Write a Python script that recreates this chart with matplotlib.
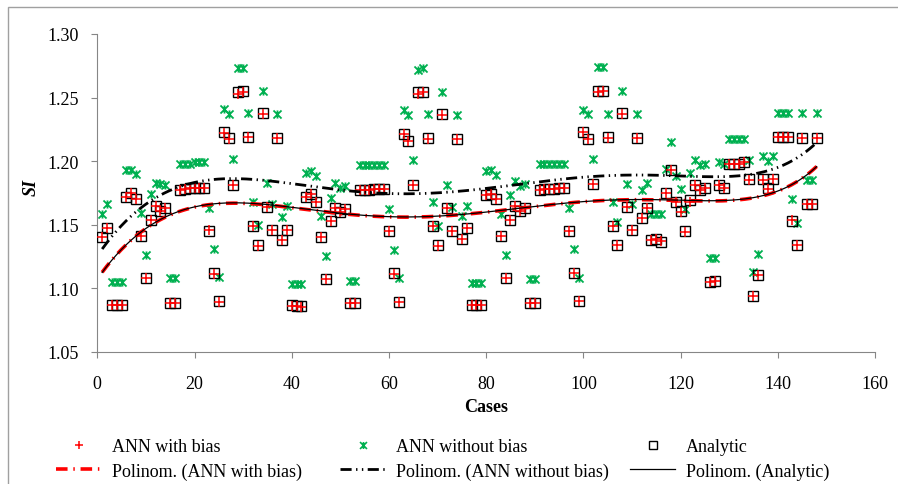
import matplotlib.pyplot as plt
import numpy as np
from matplotlib.lines import Line2D
from matplotlib.path import Path
from matplotlib.patches import Rectangle

# SI for each case, four blocks of 37 cases
analytic = [
    1.140, 1.147, 1.087, 1.087, 1.087, 1.172, 1.175, 1.170, 1.141, 1.108,
    1.154, 1.165, 1.161, 1.163, 1.088, 1.088, 1.177, 1.178, 1.179, 1.179,
    1.179, 1.179, 1.145, 1.112, 1.090, 1.223, 1.218, 1.181, 1.254, 1.255,
    1.219, 1.149, 1.134, 1.238, 1.164, 1.146, 1.218,
    1.138, 1.146, 1.087, 1.086, 1.086, 1.172, 1.174, 1.168, 1.140, 1.107,
    1.153, 1.163, 1.160, 1.162, 1.088, 1.088, 1.177, 1.177, 1.177, 1.178,
    1.178, 1.178, 1.145, 1.112, 1.089, 1.221, 1.216, 1.181, 1.254, 1.254,
    1.218, 1.149, 1.134, 1.237, 1.163, 1.145, 1.217,
    1.139, 1.147, 1.087, 1.087, 1.087, 1.173, 1.174, 1.170, 1.141, 1.108,
    1.154, 1.165, 1.161, 1.163, 1.088, 1.088, 1.177, 1.178, 1.178, 1.178,
    1.179, 1.179, 1.145, 1.112, 1.090, 1.223, 1.217, 1.182, 1.255, 1.255,
    1.219, 1.149, 1.134, 1.238, 1.164, 1.146, 1.218,
    1.155, 1.163, 1.138, 1.139, 1.136, 1.175, 1.193, 1.168, 1.161, 1.145,
    1.169, 1.181, 1.177, 1.179, 1.105, 1.106, 1.181, 1.179, 1.198, 1.198,
    1.198, 1.199, 1.186, 1.094, 1.110, 1.186, 1.179, 1.186, 1.219, 1.219,
    1.219, 1.153, 1.134, 1.218, 1.166, 1.166, 1.218,
]

ann_bias = [
    1.140, 1.147, 1.087, 1.087, 1.087, 1.172, 1.175, 1.170, 1.141, 1.108,
    1.154, 1.165, 1.161, 1.163, 1.088, 1.088, 1.177, 1.178, 1.179, 1.179,
    1.179, 1.179, 1.146, 1.111, 1.089, 1.222, 1.217, 1.181, 1.253, 1.254,
    1.219, 1.149, 1.133, 1.237, 1.164, 1.146, 1.218,
    1.138, 1.146, 1.086, 1.086, 1.085, 1.172, 1.174, 1.168, 1.140, 1.107,
    1.153, 1.163, 1.160, 1.162, 1.088, 1.088, 1.177, 1.177, 1.177, 1.178,
    1.178, 1.178, 1.145, 1.111, 1.089, 1.221, 1.216, 1.181, 1.253, 1.254,
    1.217, 1.149, 1.133, 1.236, 1.163, 1.145, 1.217,
    1.139, 1.147, 1.087, 1.087, 1.087, 1.173, 1.174, 1.170, 1.141, 1.108,
    1.154, 1.165, 1.161, 1.163, 1.088, 1.088, 1.177, 1.178, 1.178, 1.178,
    1.179, 1.179, 1.145, 1.112, 1.090, 1.223, 1.217, 1.182, 1.254, 1.255,
    1.218, 1.149, 1.134, 1.237, 1.164, 1.146, 1.218,
    1.155, 1.163, 1.138, 1.139, 1.137, 1.175, 1.193, 1.168, 1.160, 1.144,
    1.168, 1.181, 1.177, 1.179, 1.105, 1.106, 1.181, 1.179, 1.198, 1.198,
    1.198, 1.199, 1.185, 1.094, 1.110, 1.185, 1.178, 1.186, 1.219, 1.219,
    1.219, 1.154, 1.134, 1.218, 1.166, 1.166, 1.218,
]

ann_nobias = [
    1.158, 1.166, 1.105, 1.105, 1.105, 1.193, 1.193, 1.190, 1.159, 1.126,
    1.174, 1.183, 1.182, 1.181, 1.108, 1.108, 1.198, 1.198, 1.198, 1.199,
    1.199, 1.199, 1.163, 1.131, 1.109, 1.241, 1.237, 1.202, 1.273, 1.273,
    1.238, 1.168, 1.150, 1.255, 1.183, 1.166, 1.237,
    1.156, 1.165, 1.103, 1.103, 1.103, 1.191, 1.192, 1.188, 1.157, 1.125,
    1.171, 1.183, 1.179, 1.180, 1.106, 1.106, 1.197, 1.197, 1.197, 1.197,
    1.197, 1.197, 1.162, 1.130, 1.108, 1.240, 1.236, 1.201, 1.272, 1.273,
    1.237, 1.168, 1.149, 1.254, 1.181, 1.164, 1.236,
    1.157, 1.165, 1.104, 1.104, 1.104, 1.192, 1.193, 1.189, 1.158, 1.126,
    1.173, 1.184, 1.180, 1.182, 1.107, 1.107, 1.198, 1.198, 1.198, 1.198,
    1.198, 1.198, 1.163, 1.131, 1.108, 1.240, 1.237, 1.202, 1.274, 1.274,
    1.237, 1.168, 1.152, 1.255, 1.182, 1.166, 1.237,
    1.177, 1.183, 1.158, 1.158, 1.158, 1.194, 1.215, 1.188, 1.178, 1.162,
    1.191, 1.201, 1.197, 1.198, 1.124, 1.124, 1.199, 1.198, 1.217, 1.217,
    1.217, 1.217, 1.201, 1.113, 1.127, 1.204, 1.200, 1.204, 1.238, 1.238,
    1.238, 1.170, 1.151, 1.238, 1.185, 1.185, 1.238,
]

cases = np.arange(1, len(analytic) + 1)

RED = '#FF0000'
GREEN = '#00B050'
AXIS = '#868686'

plt.rcParams['font.family'] = 'Liberation Serif'
plt.rcParams['font.size'] = 13

# Excel-style star marker: an X with a vertical bar through it
star = Path([(-1, -1), (1, 1), (-1, 1), (1, -1), (0, -1), (0, 1)],
            [Path.MOVETO, Path.LINETO, Path.MOVETO, Path.LINETO,
             Path.MOVETO, Path.LINETO])

fig = plt.figure(figsize=(8.98, 4.85), dpi=100)
ax = fig.add_axes([97.3 / 898, 1 - 352.7 / 485, (875 - 97.3) / 898, (352.7 - 35) / 485])

# chart frame
fig.patches.append(Rectangle((8 / 898, -0.1), 1.2, 1.1 - 8 / 485, transform=fig.transFigure,
                             fill=False, edgecolor='#A0A0A0', linewidth=1.0))

ax.plot(cases, ann_nobias, linestyle='none', marker=star, markersize=5.8,
        markeredgecolor=GREEN, markeredgewidth=1.3, zorder=2)
ax.plot(cases, analytic, linestyle='none', marker='s', markersize=7,
        markerfacecolor='none', markeredgecolor='black', markeredgewidth=1.0, zorder=3)
ax.plot(cases, ann_bias, linestyle='none', marker='+', markersize=6.5,
        markeredgecolor=RED, markeredgewidth=1.1, zorder=4)

# 6th order polynomial trendlines
xs = np.linspace(cases[0], cases[-1], 600)
fit_bias = np.polyval(np.polyfit(cases, ann_bias, 6), xs)
fit_nobias = np.polyval(np.polyfit(cases, ann_nobias, 6), xs)
fit_an = np.polyval(np.polyfit(cases, analytic, 6), xs)

ls_red = (0, (3.2, 1.6, 0.4, 1.6))
ls_black = (0, (4.0, 1.6, 0.5, 1.6, 0.5, 1.6))
ax.plot(xs, fit_bias, color=RED, linewidth=2.6, linestyle=ls_red, zorder=5)
ax.plot(xs, fit_nobias, color='black', linewidth=2.0, linestyle=ls_black, zorder=5)
ax.plot(xs, fit_an, color='black', linewidth=0.9, zorder=6)

ax.set_xlim(0, 160)
ax.set_ylim(1.05, 1.30)
ax.set_xticks(np.arange(0, 161, 20))
ax.set_yticks(np.arange(1.05, 1.301, 0.05))
ax.yaxis.set_major_formatter(plt.FormatStrFormatter('%.2f'))
for side in ['top', 'right']:
    ax.spines[side].set_visible(False)
for side in ['left', 'bottom']:
    ax.spines[side].set_color(AXIS)
ax.tick_params(direction='out', length=4, color=AXIS, labelsize=13)
ax.tick_params(axis='x', pad=13)
ax.tick_params(axis='y', pad=9)

ax.set_xlabel('Cases', fontweight='bold', fontsize=13, labelpad=4)
ax.set_ylabel('SI', fontweight='bold', fontstyle='italic', fontsize=13)
ax.yaxis.set_label_coords(-0.074, 0.52)

# legend: three columns of two rows each
cols = [
    (56, [Line2D([], [], linestyle='none', marker='+', color=RED, markersize=6, markeredgewidth=1.1),
          Line2D([], [], color=RED, linewidth=2.6, linestyle=ls_red)],
     ['ANN with bias', 'Polinom. (ANN with bias)']),
    (340, [Line2D([], [], linestyle='none', marker=star, color=GREEN, markersize=5, markeredgewidth=1.2),
           Line2D([], [], color='black', linewidth=2.0, linestyle=ls_black)],
     ['ANN without bias', 'Polinom. (ANN without bias)']),
    (630, [Line2D([], [], linestyle='none', marker='s', markerfacecolor='none', markeredgecolor='black',
                  markersize=6, markeredgewidth=1.0),
           Line2D([], [], color='black', linewidth=0.9)],
     ['Analytic', 'Polinom. (Analytic)']),
]
for x0, handles, labels in cols:
    fig.legend(handles, labels, loc='upper left', bbox_to_anchor=(x0 / 898, 1 - 439 / 485),
               frameon=False, fontsize=13, handlelength=2.5, handletextpad=0.6,
               labelspacing=0.4, borderpad=0, borderaxespad=0)

fig.savefig('out.png', dpi=100)
